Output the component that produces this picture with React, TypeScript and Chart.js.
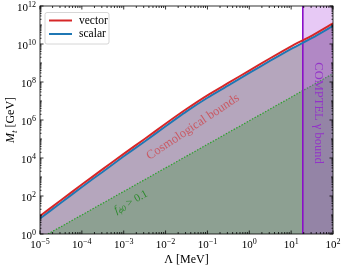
import React, { useEffect, useRef } from "react";
import { Chart, registerables } from "chart.js";
Chart.register(...registerables);

// Λ [MeV]
const lambdaMeV = [1e-5, 3.16e-5, 1e-4, 3.16e-4, 1e-3, 3.16e-3, 1e-2, 3.16e-2, 1e-1, 3.16e-1, 1, 3.16, 10, 31.6, 100];
// M [GeV] upper bound, vector
const vectorM = [8.9, 60, 400, 2.6e3, 1.66e4, 1.0e5, 6.4e5, 3.8e6, 2.0e7, 8.9e7, 4.0e8, 1.78e9, 7.6e9, 2.8e10, 1.23e11];
// M [GeV] upper bound, scalar
const scalarM = [6.6, 44, 300, 1.9e3, 1.23e4, 7.4e4, 4.7e5, 2.85e6, 1.48e7, 6.6e7, 3.0e8, 1.32e9, 5.6e9, 2.1e10, 9.1e10];
// f_phi0 > 0.1 boundary
const fLambda = [1.55e-5, 1e-2, 100];
const fM = [1, 3.0e3, 2.75e8];
// COMPTEL bound
const comptelLambda = [19, 100];
const comptelTop = [1e12, 1e12];
const comptelLine = [1, 1e12];

const xDecades = [-5, -4, -3, -2, -1, 0, 1, 2];
const yDecades = [0, 1, 2, 3, 4, 5, 6, 7, 8, 9, 10, 11, 12];
const yLabelDecades = [0, 2, 4, 6, 8, 10, 12];

const SERIF = "'Liberation Serif', 'DejaVu Serif', serif";

const pts = (xs: number[], ys: number[]) => xs.map((x, i) => ({ x, y: ys[i] }));

function supLabel(ctx: CanvasRenderingContext2D, exp: number, x: number, y: number, align: "center" | "right") {
  const base = "10";
  const e = exp < 0 ? "\u2212" + Math.abs(exp) : String(exp);
  ctx.font = `11px ${SERIF}`;
  const w1 = ctx.measureText(base).width;
  ctx.font = `8px ${SERIF}`;
  const w2 = ctx.measureText(e).width;
  const total = w1 + w2;
  const x0 = align === "center" ? x - total / 2 : x - total;
  ctx.textAlign = "left";
  ctx.textBaseline = "alphabetic";
  ctx.font = `11px ${SERIF}`;
  ctx.fillText(base, x0, y);
  ctx.font = `8px ${SERIF}`;
  ctx.fillText(e, x0 + w1, y - 4.5);
}

const decor = {
  id: "decor",
  afterDraw(chart: any) {
    const ctx = chart.ctx as CanvasRenderingContext2D;
    const { left, right, top, bottom } = chart.chartArea;
    const xs = chart.scales.x;
    const ys = chart.scales.y;
    ctx.save();
    ctx.strokeStyle = "#000";
    ctx.fillStyle = "#000";
    ctx.lineWidth = 0.8;
    ctx.strokeRect(left, top, right - left, bottom - top);
    // x ticks
    ctx.beginPath();
    xDecades.forEach((d) => {
      const p = xs.getPixelForValue(Math.pow(10, d));
      ctx.moveTo(p, bottom); ctx.lineTo(p, bottom - 3.5);
      ctx.moveTo(p, top); ctx.lineTo(p, top + 3.5);
      if (d < 2) {
        for (let k = 2; k <= 9; k++) {
          const q = xs.getPixelForValue(k * Math.pow(10, d));
          ctx.moveTo(q, bottom); ctx.lineTo(q, bottom - 2);
          ctx.moveTo(q, top); ctx.lineTo(q, top + 2);
        }
      }
    });
    yDecades.forEach((d) => {
      const p = ys.getPixelForValue(Math.pow(10, d));
      const L = d % 2 === 0 ? 3.5 : 2;
      ctx.moveTo(left, p); ctx.lineTo(left + L, p);
      ctx.moveTo(right, p); ctx.lineTo(right - L, p);
      if (d < 12) {
        for (let k = 2; k <= 9; k++) {
          const q = ys.getPixelForValue(k * Math.pow(10, d));
          ctx.moveTo(left, q); ctx.lineTo(left + 1.5, q);
          ctx.moveTo(right, q); ctx.lineTo(right - 1.5, q);
        }
      }
    });
    ctx.stroke();
    // tick labels
    xDecades.forEach((d) => supLabel(ctx, d, xs.getPixelForValue(Math.pow(10, d)), bottom + 14, "center"));
    yLabelDecades.forEach((d) => supLabel(ctx, d, left - 4, ys.getPixelForValue(Math.pow(10, d)) + 5, "right"));
    // axis titles
    ctx.font = `12px ${SERIF}`;
    ctx.textAlign = "center";
    ctx.fillText("\u039B [MeV]", (left + right) / 2, 263);
    ctx.save();
    ctx.translate(14, (top + bottom) / 2);
    ctx.rotate(-Math.PI / 2);
    ctx.font = `italic 12px ${SERIF}`;
    const wM = ctx.measureText("M").width;
    ctx.font = `italic 9px ${SERIF}`;
    const wt = ctx.measureText("t").width;
    ctx.font = `12px ${SERIF}`;
    const wR = ctx.measureText(" [GeV]").width;
    let x0 = -(wM + wt + wR) / 2;
    ctx.textAlign = "left";
    ctx.font = `italic 12px ${SERIF}`;
    ctx.fillText("M", x0, 0);
    ctx.font = `italic 9px ${SERIF}`;
    ctx.fillText("t", x0 + wM, 2.5);
    ctx.font = `12px ${SERIF}`;
    ctx.fillText(" [GeV]", x0 + wM + wt, 0);
    ctx.restore();
    // annotations
    ctx.save();
    ctx.translate(193, 127);
    ctx.rotate(-33.7 * Math.PI / 180);
    ctx.font = `12.5px ${SERIF}`;
    ctx.fillStyle = "rgba(214,39,40,0.6)";
    ctx.textAlign = "center";
    ctx.textBaseline = "middle";
    ctx.fillText("Cosmological bounds", 0, 0);
    ctx.restore();

    ctx.save();
    ctx.translate(131, 202);
    ctx.rotate(-29 * Math.PI / 180);
    ctx.fillStyle = "#2b8a2b";
    ctx.textBaseline = "middle";
    ctx.font = `italic 11px ${SERIF}`;
    const wf = ctx.measureText("f").width;
    ctx.font = `italic 8px ${SERIF}`;
    const ws = ctx.measureText("\u03D50").width;
    ctx.font = `11px ${SERIF}`;
    const wg = ctx.measureText(" > 0.1").width;
    let fx = -(wf + ws + wg) / 2;
    ctx.textAlign = "left";
    ctx.font = `italic 11px ${SERIF}`;
    ctx.fillText("f", fx, 0);
    ctx.font = `italic 8px ${SERIF}`;
    ctx.fillText("\u03D50", fx + wf, 2.5);
    ctx.font = `11px ${SERIF}`;
    ctx.fillText(" > 0.1", fx + wf + ws, 0);
    ctx.restore();

    ctx.save();
    ctx.translate(318, 113);
    ctx.rotate(Math.PI / 2);
    ctx.font = `12.5px ${SERIF}`;
    ctx.fillStyle = "#9333c8";
    ctx.textAlign = "center";
    ctx.textBaseline = "middle";
    ctx.fillText("COMPTEL \u03B3 bound", 0, 0);
    ctx.restore();

    // legend
    const bx = 45, by = 12.5, bw = 64, bh = 31.5;
    ctx.beginPath();
    ctx.roundRect(bx, by, bw, bh, 2);
    ctx.fillStyle = "rgba(255,255,255,0.85)";
    ctx.fill();
    ctx.strokeStyle = "#cccccc";
    ctx.lineWidth = 0.8;
    ctx.stroke();
    const items = [
      { label: "vector", color: "#d62728", y: 20.5 },
      { label: "scalar", color: "#1f77b4", y: 34 },
    ];
    items.forEach((it) => {
      ctx.strokeStyle = it.color;
      ctx.lineWidth = 2;
      ctx.beginPath();
      ctx.moveTo(49, it.y);
      ctx.lineTo(72, it.y);
      ctx.stroke();
      ctx.fillStyle = "#000";
      ctx.font = `11.5px ${SERIF}`;
      ctx.textAlign = "left";
      ctx.textBaseline = "middle";
      ctx.fillText(it.label, 79, it.y);
    });
    ctx.restore();
  },
};

export default function App() {
  const ref = useRef<HTMLCanvasElement | null>(null);
  useEffect(() => {
    if (!ref.current) return;
    const chart = new Chart(ref.current, {
      type: "line",
      data: {
        datasets: [
          { label: "vector", data: pts(lambdaMeV, vectorM), borderColor: "#d62728", borderWidth: 2, pointRadius: 0, fill: false, tension: 0.2 },
          { label: "scalar", data: pts(lambdaMeV, scalarM), borderColor: "#1f77b4", borderWidth: 2, pointRadius: 0, fill: false, tension: 0.2 },
          { label: "comptelLine", data: pts([comptelLambda[0], comptelLambda[0]], comptelLine), borderColor: "#8a10c8", borderWidth: 1.6, pointRadius: 0, fill: false },
          { label: "comptelFill", data: pts(comptelLambda, comptelTop), borderWidth: 0, borderColor: "rgba(0,0,0,0)", pointRadius: 0, fill: "start", backgroundColor: "rgba(170,60,220,0.28)" },
          { label: "f", data: pts(fLambda, fM), borderColor: "#2ca02c", borderWidth: 1.2, borderDash: [1.5, 1.5], pointRadius: 0, fill: "start", backgroundColor: "rgb(141,160,146)" },
          { label: "cosmo", data: pts(lambdaMeV, scalarM), borderWidth: 0, borderColor: "rgba(0,0,0,0)", pointRadius: 0, fill: "start", backgroundColor: "rgb(181,166,189)", tension: 0.2 },
        ],
      },
      options: {
        responsive: false,
        animation: false,
        events: [],
        layout: { padding: { left: 0, top: 6, right: 11, bottom: 0 } },
        plugins: { legend: { display: false }, tooltip: { enabled: false } },
        scales: {
          x: {
            type: "logarithmic", min: 1e-5, max: 100,
            ticks: { display: false }, grid: { display: false }, border: { display: false },
            afterFit: (s: any) => { s.height = 32; },
          },
          y: {
            type: "logarithmic", min: 1, max: 1e12,
            ticks: { display: false }, grid: { display: false }, border: { display: false },
            afterFit: (s: any) => { s.width = 40; },
          },
        },
      },
      plugins: [decor],
    });
    return () => chart.destroy();
  }, []);
  return (
    <div style={{ position: "fixed", left: 0, top: 0, width: 344, height: 266, background: "#fff" }}>
      <canvas ref={ref} width={344} height={266} />
    </div>
  );
}
